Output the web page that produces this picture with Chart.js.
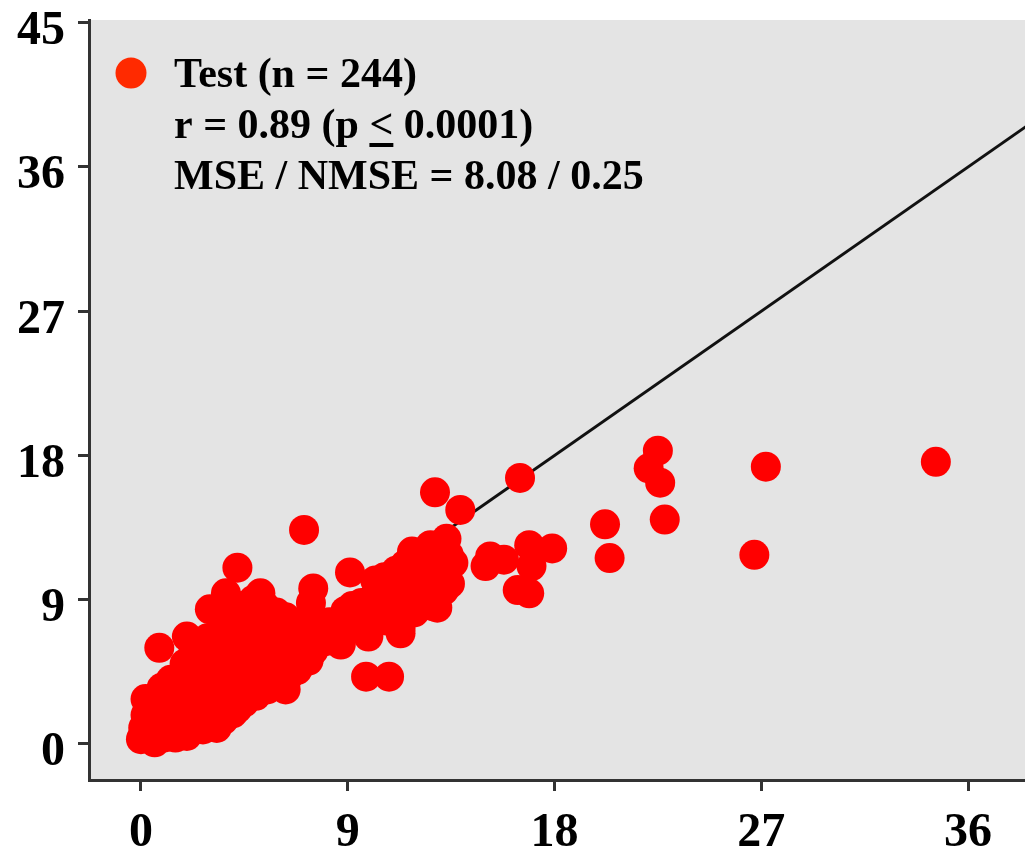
<!DOCTYPE html>
<html>
<head>
<meta charset="utf-8">
<script src="https://cdn.jsdelivr.net/npm/chart.js@4.4.1/dist/chart.umd.min.js"></script>
<style>
  html, body { margin: 0; padding: 0; background: #ffffff; }
  #wrap { position: relative; width: 1025px; height: 857px; }
</style>
</head>
<body>
<div id="wrap"><canvas id="c" width="1025" height="857"></canvas></div>
<script>
// Axis ticks
const xTicks = [0, 9, 18, 27, 36];
const yTicks = [0, 9, 18, 27, 36, 45];

// Test set: [observed, predicted]
const testPoints = [
  [0.0,0.3],[0.1,1.0],[0.2,1.8],[0.2,2.8],[0.4,0.5],[0.5,1.4],[0.3,2.2],
  [0.6,0.1],[0.7,0.8],[0.8,1.6],[0.9,2.4],[0.7,3.0],[1.0,0.4],[1.0,1.1],[0.9,3.5],[0.8,6.0],
  [1.1,0.6],[1.2,1.4],[1.3,2.0],[1.2,2.8],[1.4,3.4],[1.3,4.0],[1.5,0.4],[1.5,1.0],
  [1.6,1.6],[1.7,2.4],[1.8,3.0],[1.7,3.8],[1.9,4.4],[1.8,0.9],[2.0,1.4],[2.0,2.0],[2.0,6.7],[1.9,5.0],
  [2.1,0.8],[2.2,2.6],[2.3,3.3],[2.4,4.0],[2.2,4.7],[2.4,1.5],[2.5,2.2],[2.5,5.4],[2.3,5.9],
  [2.6,1.0],[2.7,2.8],[2.8,3.6],[2.7,4.4],[2.9,5.0],[2.8,6.2],[3.0,1.6],[3.0,2.4],[2.9,6.6],
  [3.1,3.0],[3.2,3.8],[3.1,4.6],[3.3,5.3],[3.2,6.0],[3.3,1.0],[3.4,2.0],[3.0,8.4],[3.4,6.8],
  [3.6,2.6],[3.6,3.4],[3.7,4.2],[3.8,5.0],[3.6,5.7],[3.8,6.4],[3.7,7.2],[3.7,9.4],[3.9,8.2],[4.0,1.9],
  [4.1,2.8],[4.1,3.6],[4.2,4.4],[4.3,5.2],[4.1,6.0],[4.3,6.8],[4.2,7.6],[4.4,8.6],[4.2,11.0],[4.5,2.6],
  [4.6,3.3],[4.7,4.0],[4.6,4.8],[4.8,5.6],[4.7,6.4],[4.8,7.2],[4.6,8.0],[4.9,9.0],[5.0,3.0],
  [5.1,3.8],[5.2,4.6],[5.1,5.4],[5.3,6.2],[5.2,7.0],[5.3,7.8],[5.2,9.4],[5.4,8.6],[5.5,3.4],
  [5.6,4.2],[5.7,5.0],[5.6,5.8],[5.8,6.6],[5.7,7.4],[5.9,8.2],[6.0,3.8],[6.0,4.6],
  [6.1,5.4],[6.2,6.2],[6.1,7.0],[6.3,7.9],[6.3,3.4],[6.4,4.2],[6.4,5.0],
  [6.6,5.8],[6.7,6.6],[6.6,7.4],[6.8,4.6],[6.9,5.4],[7.0,6.2],
  [7.1,13.35],[7.2,7.0],[7.3,5.2],[7.4,7.8],[7.4,8.8],[7.5,9.7],[7.5,5.8],[7.6,6.5],[7.9,7.2],[8.0,6.4],
  [8.2,7.6],[8.4,6.9],[8.6,6.5],[8.7,6.2],[8.8,7.8],[8.9,8.3],
  [9.1,10.7],[9.2,8.6],[9.3,8.0],[9.5,7.2],[9.6,8.8],[9.8,4.2],[9.9,6.7],[10.0,7.6],
  [10.1,9.0],[10.2,10.2],[10.4,8.3],[10.5,9.6],[10.6,10.4],[10.8,4.2],[10.7,7.7],[10.9,9.1],
  [11.1,10.8],[11.3,6.9],[11.3,7.2],[11.3,9.2],[11.3,8.4],[11.6,10.0],[11.8,9.4],[11.8,12.0],[11.5,11.2],[11.9,8.2],
  [12.2,10.5],[12.4,11.6],[12.3,9.0],[12.7,8.6],[12.8,15.7],[12.9,8.5],[12.6,12.4],[12.9,10.8],
  [13.3,12.8],[13.45,10.0],[13.6,11.3],[13.9,14.6],[13.4,11.8],[13.2,9.6],
  [15.0,11.1],[15.2,11.7],[15.8,11.5],[16.4,9.6],[16.5,16.6],[16.9,9.4],[16.9,12.4],[17.0,11.1],[17.9,12.2],
  [20.2,13.7],[20.4,11.6],[22.1,17.2],[22.5,18.3],[22.6,16.3],[22.8,14.0],[26.7,11.8],[27.2,17.3],[34.6,17.6],
  [0.3,0.9],[0.6,2.0],[0.9,1.9],[1.1,3.1],[1.4,2.5],[1.6,0.7],[1.9,1.7],[2.1,3.6],[2.3,2.9],[2.6,1.8],
  [2.8,4.8],[3.0,3.5],[3.2,2.2],[3.3,4.3],[3.5,5.5],[3.5,4.0],[3.9,3.0],[3.9,5.6],[4.0,4.8],[4.0,6.6],
  [4.4,3.9],[4.4,5.8],[4.5,7.0],[4.7,3.6],[4.8,5.0],[4.9,6.8],[5.0,7.6],[5.0,4.2],[5.2,5.9],[5.3,3.4],
  [5.4,5.0],[5.5,6.6],[5.6,7.8],[5.8,4.4],[5.9,5.6],[6.0,6.8],[6.2,4.8],[6.3,6.0],[6.5,7.0],[6.5,5.2],
  [6.8,6.0],[7.0,5.0],[7.2,6.4],[2.0,0.5],[1.3,1.6],[0.5,0.3],[3.6,1.5],[4.2,2.2],[2.7,0.9],[1.6,2.9]
];

// Identity (y = x) reference line
const identityLine = [[0, 0], [40, 40]];

// Legend / statistics text
const legendLines = ['Test (n = 244)', 'r = 0.89 (p ', '< 0.0001)', 'MSE / NMSE = 8.08 / 0.25'];

const SERIF = '"Liberation Serif", "Times New Roman", serif';

const plotBackground = {
  id: 'plotBackground',
  beforeDraw(chart) {
    const { ctx, chartArea: a } = chart;
    ctx.save();
    ctx.fillStyle = '#e4e4e4';
    ctx.fillRect(a.left, a.top, a.right - a.left, a.bottom - a.top);
    ctx.restore();
  }
};

const statsLegend = {
  id: 'statsLegend',
  afterDraw(chart) {
    const ctx = chart.ctx;
    ctx.save();
    ctx.fillStyle = '#ff2a00';
    ctx.beginPath();
    ctx.arc(131, 73, 15.5, 0, Math.PI * 2);
    ctx.fill();
    ctx.fillStyle = '#000';
    ctx.font = 'bold 42px ' + SERIF;
    ctx.textBaseline = 'alphabetic';
    ctx.textAlign = 'left';
    const x0 = 174;
    ctx.fillText(legendLines[0], x0, 87);
    ctx.fillText(legendLines[1], x0, 138);
    const w1 = ctx.measureText(legendLines[1]).width;
    ctx.fillText(legendLines[2], x0 + w1, 138);
    const wLt = ctx.measureText('<').width;
    ctx.fillRect(x0 + w1, 143, wLt, 4);
    ctx.fillText(legendLines[3], x0, 189);
    ctx.restore();
  }
};

function fixTicks(values) {
  return function (scale) { scale.ticks = values.map(v => ({ value: v })); };
}

const axisColor = '#333333';
const tickFont = { family: SERIF, size: 48, weight: 'bold' };

new Chart(document.getElementById('c'), {
  data: {
    datasets: [
      {
        type: 'scatter',
        label: 'Test',
        data: testPoints.map(([x, y]) => ({ x, y })),
        backgroundColor: '#ff0000',
        borderColor: '#ff0000',
        borderWidth: 0,
        pointRadius: 15,
        pointHoverRadius: 15,
        order: 0
      },
      {
        type: 'line',
        label: 'y = x',
        data: identityLine.map(([x, y]) => ({ x, y })),
        borderColor: '#111111',
        borderWidth: 3,
        pointRadius: 0,
        fill: false,
        order: 1
      }
    ]
  },
  options: {
    responsive: false,
    animation: false,
    events: [],
    layout: { autoPadding: false, padding: { top: 20, right: 0, left: 0, bottom: 0 } },
    plugins: { legend: { display: false }, tooltip: { enabled: false } },
    scales: {
      x: {
        type: 'linear',
        position: 'bottom',
        min: -2.26,
        max: 38.48,
        afterBuildTicks: fixTicks(xTicks),
        afterFit(scale) {
          scale.height = 77;
          scale.paddingLeft = 0; scale.paddingRight = 0;
        },
        grid: { drawOnChartArea: false, drawTicks: true, tickLength: 11, color: axisColor, lineWidth: 3 },
        border: { display: true, color: axisColor, width: 3 },
        ticks: { color: '#000', font: tickFont, padding: 14, maxRotation: 0, autoSkip: false }
      },
      y: {
        type: 'linear',
        position: 'left',
        min: -2.25,
        max: 45.17,
        afterBuildTicks: fixTicks(yTicks),
        afterFit(scale) {
          scale.width = 89;
          scale.paddingTop = 0; scale.paddingBottom = 0;
        },
        grid: { drawOnChartArea: false, drawTicks: true, tickLength: 11, color: axisColor, lineWidth: 3 },
        border: { display: true, color: axisColor, width: 3 },
        ticks: { color: '#000', font: tickFont, padding: 13, labelOffset: 9, autoSkip: false }
      }
    }
  },
  plugins: [plotBackground, statsLegend]
});
</script>
</body>
</html>
